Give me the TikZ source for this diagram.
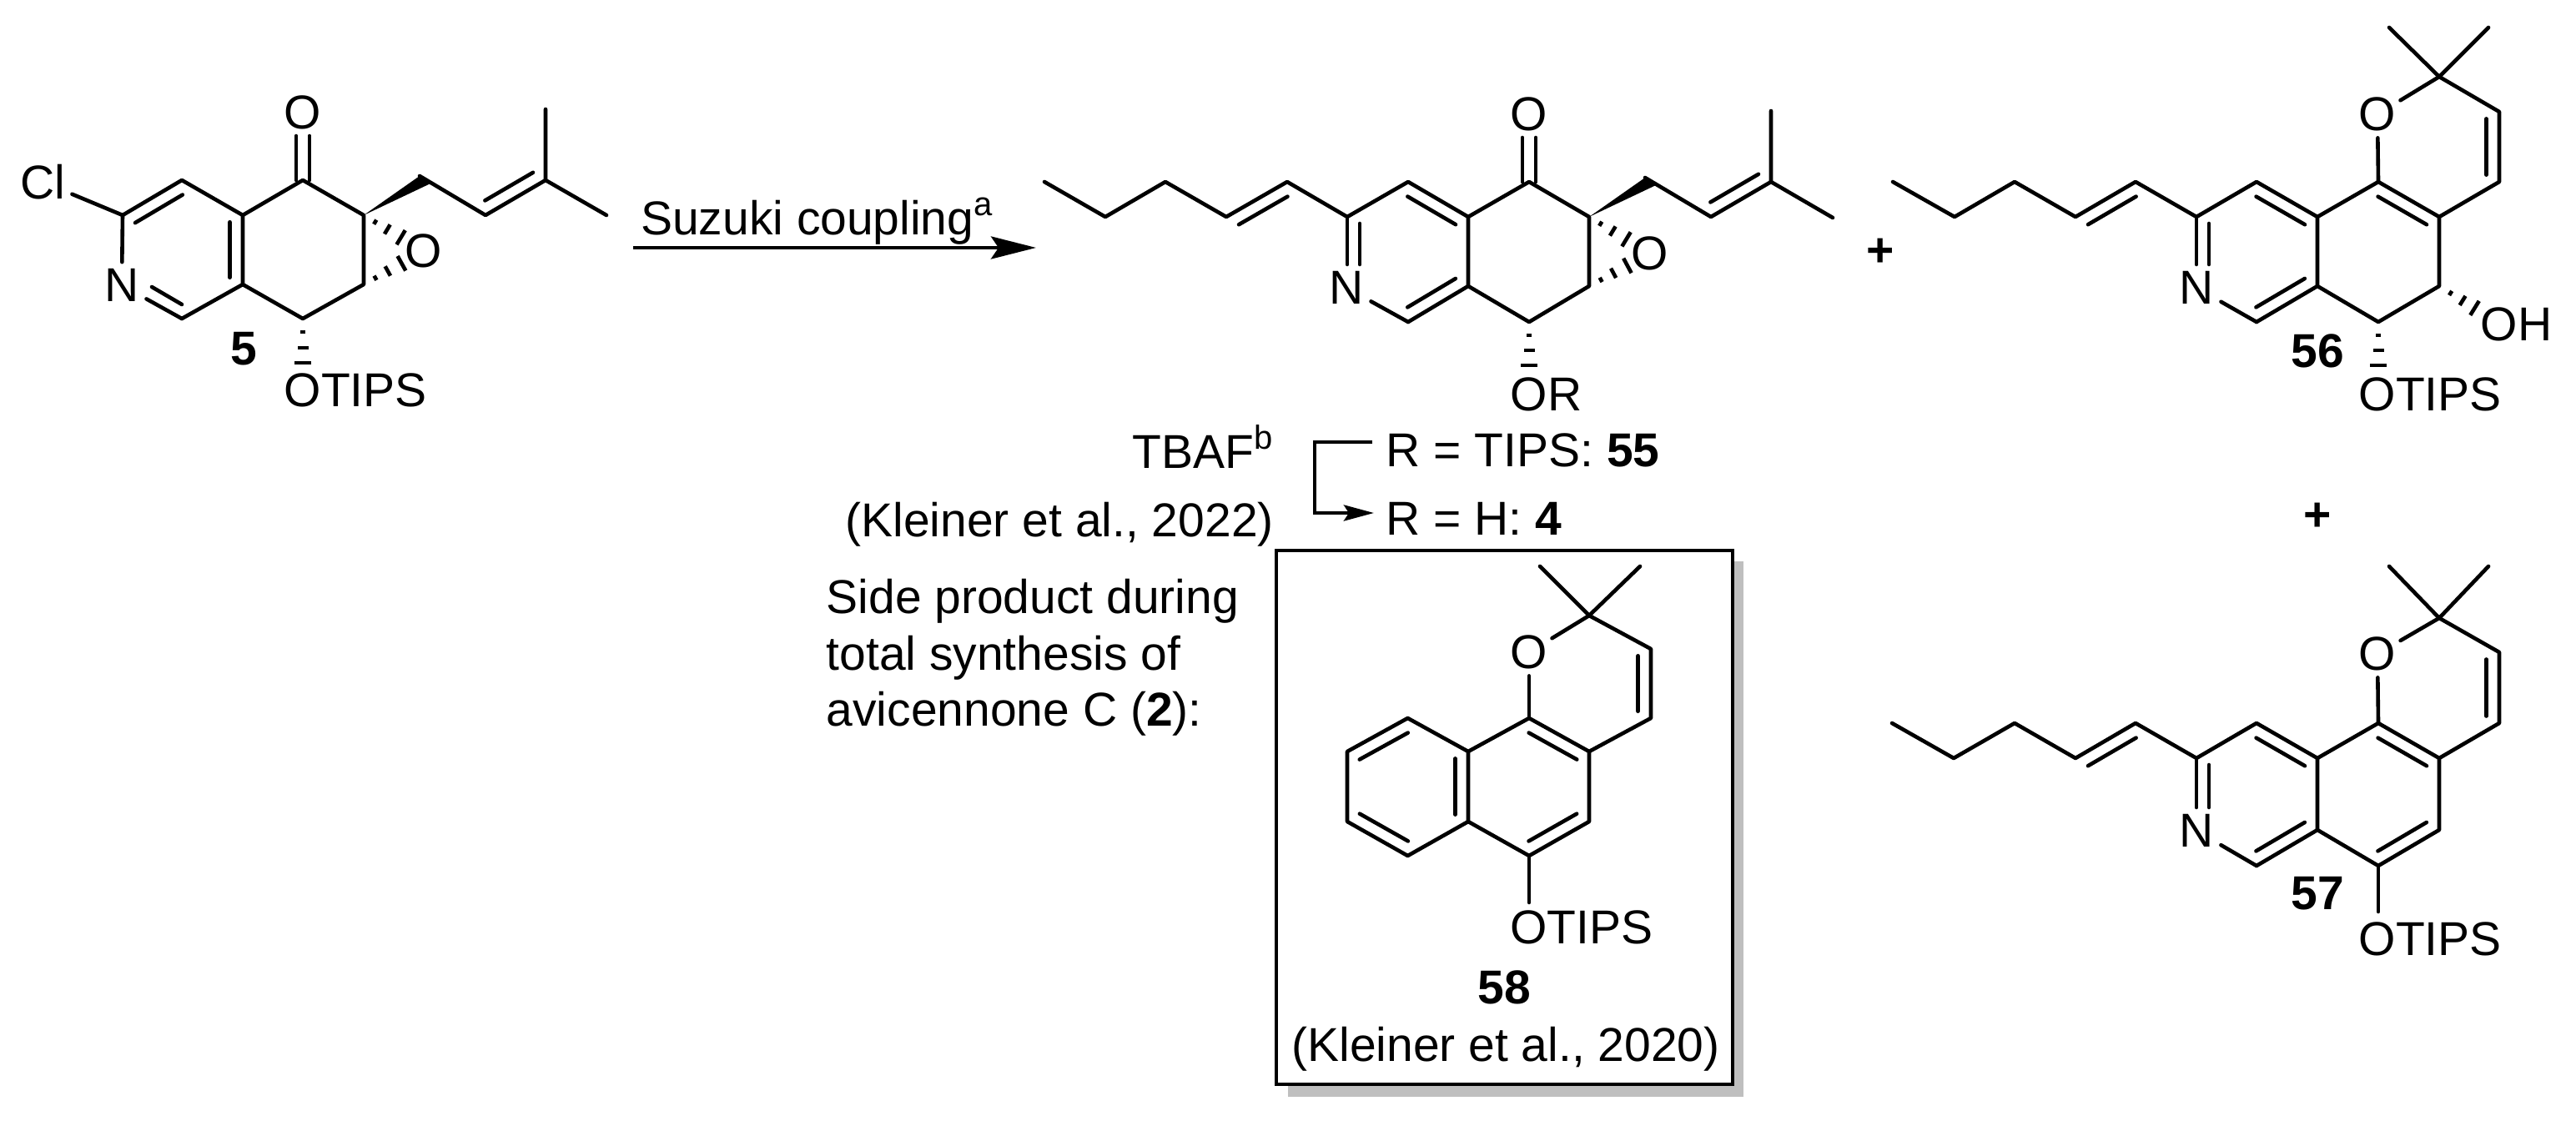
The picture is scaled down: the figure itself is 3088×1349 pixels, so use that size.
\documentclass[tikz,border=0pt]{standalone}
\usepackage{fontspec}
\setmainfont{Liberation Sans}
\usetikzlibrary{calc,arrows.meta}
\tikzset{
  bond/.style={line width=4.6pt,line cap=round,line join=round},
  hashline/.style={line width=4.6pt},
  lab/.style={inner sep=0pt,font=\fontsize{57}{68}\selectfont},
  num/.style={inner sep=0pt,font=\fontsize{57}{68}\selectfont\bfseries,anchor=base},
  tx/.style={inner sep=0pt,font=\fontsize{57}{68}\selectfont,anchor=base west},
  txr/.style={inner sep=0pt,font=\fontsize{57}{68}\selectfont,anchor=base east},
}
% inner line of a double bond, on the left of the direction #1 -> #2
\newcommand\inb[2]{\draw[bond] ($(#1)!.1!(#2)!15.5pt!90:(#2)$) -- ($(#2)!.1!(#1)!-15.5pt!90:(#1)$);}
% hashed bond: three growing strokes
\newcommand\hashb[5]{\draw[hashline]
  ($(#1)!#3pt!(#2)!3pt!90:(#2)$) -- ($(#1)!#3pt!(#2)!-3pt!90:(#2)$)
  ($(#1)!#4pt!(#2)!6.5pt!90:(#2)$) -- ($(#1)!#4pt!(#2)!-6.5pt!90:(#2)$)
  ($(#1)!#5pt!(#2)!10pt!90:(#2)$) -- ($(#1)!#5pt!(#2)!-10pt!90:(#2)$);}
\newcommand\supr[1]{\raisebox{23pt}{\fontsize{40}{40}\selectfont #1}}
\begin{document}
\begin{tikzpicture}[x=1pt,y=-1pt]
\useasboundingbox (0,0) rectangle (3088,1349);
\fill[white] (0,0) rectangle (3088,1349);

% ---------- compound 5
\coordinate (a1) at (147,258); \coordinate (a2) at (218,216); \coordinate (a3) at (291,258);
\coordinate (a4) at (363,216); \coordinate (a5) at (436,258); \coordinate (a6) at (436,341);
\coordinate (a7) at (363,382); \coordinate (a8) at (291,341); \coordinate (a9) at (218,382);
\coordinate (p1) at (503,211); \coordinate (p2) at (582,258); \coordinate (p3) at (654,216);
\coordinate (p4) at (654,131); \coordinate (p5) at (727,258); \coordinate (ao) at (363,466);
\node[lab] (acl) at (51,218) {Cl};
\node[lab] (an) at (146,342) {N};
\node[lab] (aco) at (363,135) {O};
\node[lab] (aep) at (508,301) {O};
\node[tx] (aot) at (340.5,487) {OTIPS};
\node[num] (n5) at (292,437) {5};
\draw[bond] (a1)--(a2)--(a3)--(a4)--(a5)--(a6)--(a7)--(a8)--(a3) (a8)--(a9);
\draw[bond,shorten >=9pt] (a1)--(acl);
\draw[bond,shorten >=8pt] (a1)--(an);
\draw[bond,shorten <=10pt] (an)--(a9);
\draw[bond] (p1)--(p2)--(p3)--(p4) (p3)--(p5);
\inb{a2}{a1} \inb{a8}{a3} \inb{p2}{p3}
\draw[bond] ($(a9)+(0,-17)$)--($(a9)+(-36,-38)$);
\fill (a5)--(p1)--($(p1)!.18!(p2)$)--cycle;
\draw[bond] ($(a4)+(-8,0)$)--($(a4)+(-8,-53)$) ($(a4)+(8,0)$)--($(a4)+(8,-53)$);
\hashb{a5}{aep}{16}{33}{52}
\hashb{a6}{aep}{16}{33}{52}
\hashb{a7}{ao}{16}{35}{53}

% ---------- reaction arrow
\coordinate (ar1) at (759,297); \coordinate (ar2) at (1242,297);
\draw[line width=4.6pt,-{Stealth[length=54pt,width=27pt,inset=9pt]}] (ar1)--(ar2);
\node[tx] (suz) at (768,281) {Suzuki coupling\supr{a}};

% ---------- compound 55
\coordinate (c1) at (1252,218); \coordinate (c2) at (1325,260); \coordinate (c3) at (1397,218);
\coordinate (c4) at (1470,260); \coordinate (c5) at (1543,218);
\coordinate (b1) at (1615,260); \coordinate (b2) at (1688,218); \coordinate (b3) at (1760,260);
\coordinate (b4) at (1833,218); \coordinate (b5) at (1905,260); \coordinate (b6) at (1905,343);
\coordinate (b7) at (1833,386); \coordinate (b8) at (1760,343); \coordinate (b9) at (1688,386);
\coordinate (q1) at (1972,213); \coordinate (q2) at (2051,260); \coordinate (q3) at (2123,218);
\coordinate (q4) at (2123,133); \coordinate (q5) at (2197,261); \coordinate (bo) at (1833,472);
\node[lab] (bn) at (1614,345) {N};
\node[lab] (bco) at (1833,137) {O};
\node[lab] (bep) at (1978,304) {O};
\node[tx] (bor) at (1810.5,492) {OR};
\draw[bond] (c1)--(c2)--(c3)--(c4)--(c5)--(b1)--(b2)--(b3)--(b4)--(b5)--(b6)--(b7)--(b8)--(b3) (b8)--(b9);
\draw[bond,shorten <=10pt] (bn)--(b9);
\draw[bond] (q1)--(q2)--(q3)--(q4) (q3)--(q5);
\draw[bond] (b1)--($(b1)+(0,57)$) ($(b1)+(15,8)$)--($(b1)+(15,57)$);
\inb{c5}{c4} \inb{b3}{b2} \inb{b9}{b8} \inb{q2}{q3}
\fill (b5)--(q1)--($(q1)!.18!(q2)$)--cycle;
\draw[bond] ($(b4)+(-8,0)$)--($(b4)+(-8,-53)$) ($(b4)+(8,0)$)--($(b4)+(8,-53)$);
\hashb{b5}{bep}{16}{33}{52}
\hashb{b6}{bep}{16}{33}{52}
\hashb{b7}{bo}{16}{34}{52}

% ---------- TBAF annotation
\node[txr] (tbaf) at (1526,561) {TBAF\supr{b}};
\node[txr] (kl22) at (1527,643) {(Kleiner et al., 2022)};
\node[tx] (r55) at (1661.5,559) {R = TIPS: \textbf{55}};
\node[tx] (r4) at (1661.5,641) {R = H: \textbf{4}};
\coordinate (br1) at (1645,530); \coordinate (br2) at (1576,530);
\coordinate (br3) at (1576,615); \coordinate (br4) at (1647,615);
\draw[line width=4.6pt,line join=miter,-{Stealth[length=36pt,width=19pt,inset=6pt]}] (br1)--(br2)--(br3)--(br4);
\node[tx] (s1) at (990.5,735) {Side product during};
\node[tx] (s2) at (990.5,803) {total synthesis of};
\node[tx] (s3) at (990.5,870) {avicennone C (\textbf{2}):};

% ---------- box with compound 58
\fill[black!25] (1544,673) rectangle (2090,1315);
\draw[line width=4.6pt,fill=white] (1530,660) rectangle (2077,1300);
\coordinate (k1) at (1846,679); \coordinate (k2) at (1966,679); \coordinate (kc) at (1905,738);
\coordinate (k3) at (1979,778); \coordinate (k4) at (1979,861); \coordinate (k5) at (1905,901);
\coordinate (k6) at (1833,861); \coordinate (k7) at (1760,901); \coordinate (k8) at (1687.5,861);
\coordinate (k9) at (1615,901); \coordinate (k10) at (1615,985); \coordinate (k11) at (1687.5,1026);
\coordinate (k12) at (1760,985); \coordinate (k13) at (1833,1026); \coordinate (k14) at (1905,985);
\coordinate (ko) at (1833,1111);
\node[lab] (kpo) at (1833,782) {O};
\node[tx] (kot) at (1810,1131) {OTIPS};
\node[num] (n58) at (1803.5,1203) {58};
\node[lab,anchor=base] (kl20) at (1805,1272) {(Kleiner et al., 2020)};
\draw[bond] (k1)--(kc)--(k2) (kc)--(k3)--(k4)--(k5)--(k6)--(k7)--(k8)--(k9)--(k10)--(k11)--(k12)--(k7) (k12)--(k13)--(k14)--(k5);
\draw[bond,shorten <=6pt] (kpo)--(kc);
\draw[bond,shorten <=8pt] (kpo)--(k6);
\draw[bond,shorten >=29pt] (k13)--(ko);
\inb{k4}{k3} \inb{k5}{k6} \inb{k8}{k9} \inb{k12}{k7} \inb{k10}{k11} \inb{k13}{k14}

% ---------- compound 56
\node[lab,font=\fontsize{57}{68}\selectfont\bfseries] (plus1) at (2254,303) {+};
\coordinate (d1) at (2269,218); \coordinate (d2) at (2343,260); \coordinate (d3) at (2415,218);
\coordinate (d4) at (2488,260); \coordinate (d5) at (2560,218);
\coordinate (e1) at (2633,260); \coordinate (e2) at (2705,218); \coordinate (e3) at (2778,260);
\coordinate (e4) at (2851,218); \coordinate (e5) at (2924,260); \coordinate (e6) at (2996,218);
\coordinate (e7) at (2996,134); \coordinate (e8) at (2924,92); \coordinate (e9) at (2864,33);
\coordinate (e10) at (2983,33); \coordinate (e11) at (2778,343); \coordinate (e12) at (2851,386);
\coordinate (e13) at (2924,343); \coordinate (e14) at (2705,386); \coordinate (eo) at (2851,472);
\node[lab] (en) at (2633,345) {N};
\node[lab] (epo) at (2850,137) {O};
\node[tx] (eoh) at (2973.5,408) {OH};
\coordinate (eho) at (2995,387);
\node[tx] (eot) at (2827.5,492) {OTIPS};
\node[num] (n56) at (2778,440) {56};
\draw[bond] (d1)--(d2)--(d3)--(d4)--(d5)--(e1)--(e2)--(e3)--(e4)--(e5)--(e6)--(e7)--(e8)--(e9) (e8)--(e10)
  (e3)--(e11)--(e12)--(e13)--(e5) (e11)--(e14);
\draw[bond,shorten <=10pt] (en)--(e14);
\draw[bond,shorten <=6pt] (epo)--(e8);
\draw[bond,shorten <=8pt] (epo)--(e4);
\draw[bond] (e1)--($(e1)+(0,57)$) ($(e1)+(15,8)$)--($(e1)+(15,57)$);
\inb{d5}{d4} \inb{e3}{e2} \inb{e5}{e4} \inb{e6}{e7} \inb{e14}{e11}
\hashb{e13}{eho}{16}{33}{50}
\hashb{e12}{eo}{16}{34}{52}

% ---------- compound 57
\node[lab,font=\fontsize{57}{68}\selectfont\bfseries] (plus2) at (2778,620) {+};
\coordinate (f1) at (2268,867); \coordinate (f2) at (2342,909); \coordinate (f3) at (2415,867);
\coordinate (f4) at (2488,909); \coordinate (f5) at (2560,867);
\coordinate (g1) at (2633,909); \coordinate (g2) at (2705,867); \coordinate (g3) at (2778,909);
\coordinate (g4) at (2851,867); \coordinate (g5) at (2924,909); \coordinate (g6) at (2996,867);
\coordinate (g7) at (2996,782); \coordinate (g8) at (2924,741); \coordinate (g9) at (2864,679);
\coordinate (g10) at (2983,679); \coordinate (g11) at (2778,995); \coordinate (g12) at (2851,1038);
\coordinate (g13) at (2924,995); \coordinate (g14) at (2705,1038); \coordinate (go) at (2851,1124);
\node[lab] (gn) at (2633,996) {N};
\node[lab] (gpo) at (2850,784) {O};
\node[tx] (got) at (2827.5,1145) {OTIPS};
\node[num] (n57) at (2778,1090) {57};
\draw[bond] (f1)--(f2)--(f3)--(f4)--(f5)--(g1)--(g2)--(g3)--(g4)--(g5)--(g6)--(g7)--(g8)--(g9) (g8)--(g10)
  (g3)--(g11)--(g12)--(g13)--(g5) (g11)--(g14);
\draw[bond,shorten <=10pt] (gn)--(g14);
\draw[bond,shorten <=6pt] (gpo)--(g8);
\draw[bond,shorten <=8pt] (gpo)--(g4);
\draw[bond,shorten >=31pt] (g12)--(go);
\draw[bond] (g1)--($(g1)+(0,59)$) ($(g1)+(15,8)$)--($(g1)+(15,59)$);
\inb{f5}{f4} \inb{g3}{g2} \inb{g5}{g4} \inb{g6}{g7} \inb{g14}{g11} \inb{g12}{g13}
\end{tikzpicture}
\end{document}
